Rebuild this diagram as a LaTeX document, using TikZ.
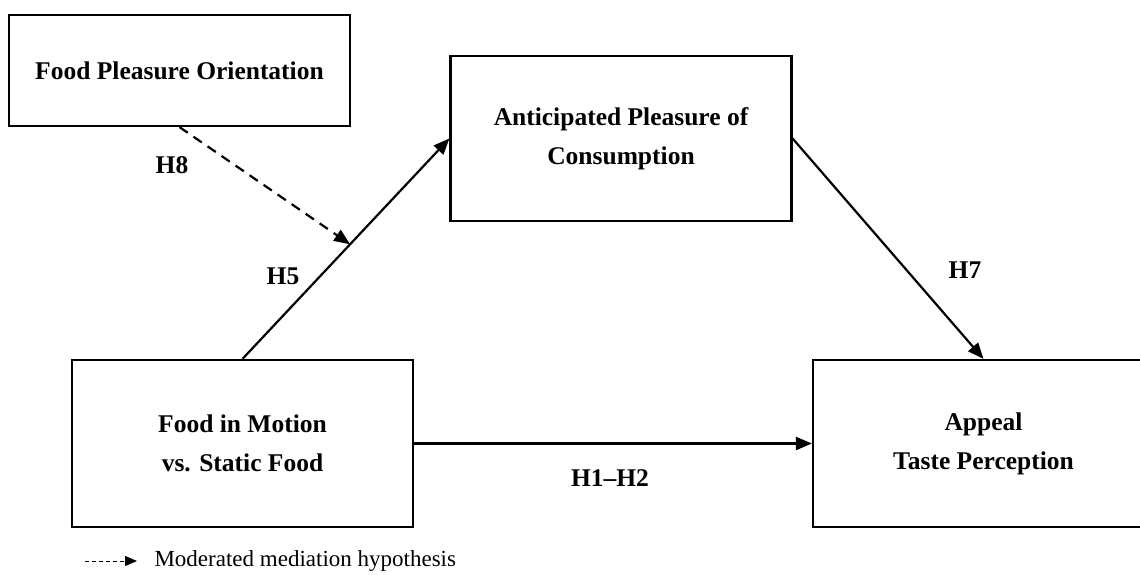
\documentclass[tikz,border=0pt]{standalone}
\usepackage{fontspec}
\setmainfont{Liberation Serif}
\usetikzlibrary{arrows.meta}

\begin{document}
\begin{tikzpicture}[
    x=1pt, y=-1pt,
    box/.style={draw, line width=2.2pt, align=center, minimum width=341pt,
                minimum height=167pt, font=\fontsize{25.5}{39}\selectfont\bfseries},
    hyp/.style={font=\fontsize{25.5}{30}\selectfont\bfseries},
    arr/.style={-{Triangle[length=16pt,width=13pt]}, line width=2.2pt},
    modarr/.style={arr, dash pattern=on 10pt off 7pt}
  ]
  \useasboundingbox (0,0) rectangle (1140,575);

  \node[box, minimum height=111pt] (fpo) at (179.5,70.5) {Food Pleasure Orientation};
  \node[box, minimum height=165pt] (apc) at (621,138.5) {Anticipated Pleasure of\\Consumption};
  \node[box] (fim) at (242.5,443.5) {Food in Motion\\vs. Static Food};
  \node[box] (app) at (983.5,443.5) {Appeal\\Taste Perception};

  \draw[arr] (fim.north) -- coordinate[pos=0.52] (mod) (apc.west);
  \draw[arr] (apc.east) -- (app.north);
  \draw[arr] (fim.east) -- (app.west);
  \draw[modarr] (fpo.south) -- (mod);

  \node[hyp] (h8) at (172,165) {H8};
  \node[hyp] (h5) at (283,276) {H5};
  \node[hyp] (h7) at (965,270) {H7};
  \node[hyp] (h12) at (610,478) {H1--H2};

  % legend
  \coordinate (lega) at (85,561);
  \coordinate (legb) at (137,561);
  \draw[-{Triangle[length=12pt,width=10pt]}, line width=0.9pt, dash pattern=on 4pt off 3pt] (lega) -- (legb);
  \node[anchor=west, font=\fontsize{23}{28}\selectfont] (legt) at (151,561) {Moderated mediation hypothesis};
\end{tikzpicture}
\end{document}
